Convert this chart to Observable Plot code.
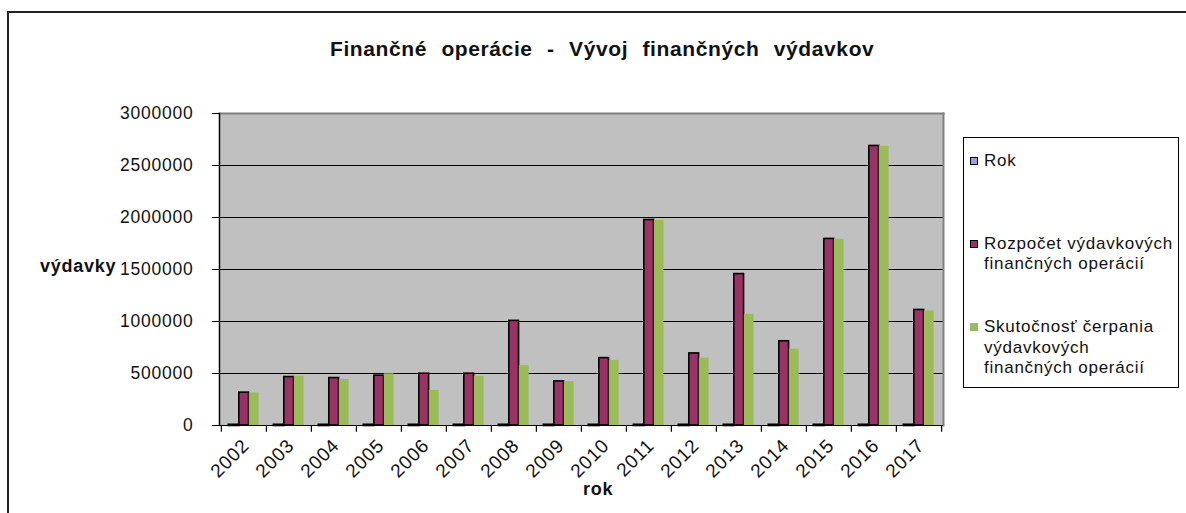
<!DOCTYPE html>
<html>
<head>
<meta charset="utf-8">
<script src="https://cdn.jsdelivr.net/npm/d3@7"></script>
<script src="https://cdn.jsdelivr.net/npm/@observablehq/plot@0.6"></script>
<style>
  html, body { margin: 0; padding: 0; background: #fff; }
  #wrap { position: relative; width: 1186px; height: 513px; overflow: hidden; font-family: "Liberation Sans", Arial, sans-serif; color: #111; }
  #chart { position: absolute; left: 0; top: 0; }
  #border { position: absolute; left: 7px; top: 11px; width: 1300px; height: 700px; border-left: 2px solid #222; border-top: 2px solid #222; box-sizing: border-box; }
  .lbl { position: absolute; white-space: nowrap; line-height: 1; }
  #legend { position: absolute; left: 963px; top: 137px; width: 216px; height: 251px; border: 1px solid #000; box-sizing: border-box; background: #fff; }
  .sw { position: absolute; width: 8px; height: 8px; box-sizing: border-box; }
  .lt { position: absolute; white-space: nowrap; font-size: 17px; letter-spacing: 0.75px; line-height: 20.5px; }
</style>
</head>
<body>
<div id="wrap">
  <div id="border"></div>
  <div id="chart"></div>
</div>
<script>
// ---- data ----
const years = ["2002","2003","2004","2005","2006","2007","2008","2009","2010","2011","2012","2013","2014","2015","2016","2017"];
const rok = [2002,2003,2004,2005,2006,2007,2008,2009,2010,2011,2012,2013,2014,2015,2016,2017];
const rozpocet = [316000, 466000, 456000, 479000, 498000, 498000, 1006000, 424000, 648000, 1976000, 693000, 1456000, 810000, 1794000, 2688000, 1111000];
const skutocnost = [313000, 475000, 443000, 497000, 338000, 472000, 575000, 421000, 626000, 1973000, 648000, 1069000, 734000, 1791000, 2685000, 1101000];
const seriesNames = ["Rok", "Rozpočet výdavkových finančných operácií", "Skutočnosť čerpania výdavkových finančných operácií"];
const legendLines = [["Rok"], ["Rozpočet výdavkových", "finančných operácií"], ["Skutočnosť čerpania", "výdavkových", "finančných operácií"]];
const seriesColors = ["#9999FF", "#993366", "#9BBB59"];
const yTicks = [0, 500000, 1000000, 1500000, 2000000, 2500000, 3000000];
const titleText = "Finančné operácie - Vývoj finančných výdavkov";
const yLabel = "výdavky";
const xLabel = "rok";

// ---- layout ----
const W = 1186, H = 513;
const mL = 219, mR = W - 943, mT = 113, mB = H - 425;
const bw = (W - mL - mR) / years.length;
const off = 7.8, barW = 10;

const table = years.map((y, i) => ({year: y, rok: rok[i], rozpocet: rozpocet[i], skutocnost: skutocnost[i]}));

const chart = Plot.plot({
  width: W, height: H,
  marginLeft: mL, marginRight: mR, marginTop: mT, marginBottom: mB,
  style: {fontFamily: "Liberation Sans, Arial, sans-serif", color: "#111", background: "transparent", letterSpacing: "0.75px", overflow: "visible"},
  x: {type: "band", domain: years, padding: 0},
  y: {domain: [0, 3000000]},
  marks: [
    Plot.frame({fill: "#C0C0C0", stroke: null}),
    Plot.gridY(yTicks, {stroke: "#000", strokeOpacity: 1, strokeWidth: 1}),
    Plot.frame({anchor: "top", stroke: "#808080", strokeWidth: 2}),
    Plot.frame({anchor: "right", stroke: "#808080", strokeWidth: 2}),
    Plot.ruleY([0], {stroke: "#000", strokeWidth: 1}),
    Plot.barY(table, {x: "year", y: "rok", fill: seriesColors[0], stroke: "#000", strokeWidth: 2.6,
      insetLeft: off, insetRight: bw - off - barW}),
    Plot.barY(table, {x: "year", y: "rozpocet", fill: seriesColors[1], stroke: "#000", strokeWidth: 1.6,
      insetLeft: off + barW, insetRight: bw - off - 2 * barW}),
    Plot.barY(table, {x: "year", y: "skutocnost", fill: seriesColors[2],
      insetLeft: off + 2 * barW, insetRight: bw - off - 3 * barW}),
    Plot.frame({anchor: "left", stroke: "#000", strokeWidth: 1.5}),
    Plot.ruleX(years, {x: d => d, y1: 0, y2: -65000, dx: -bw / 2, stroke: "#000", strokeWidth: 1.2}),
    Plot.ruleX(years.slice(-1), {x: d => d, y1: 0, y2: -65000, dx: bw / 2, stroke: "#000", strokeWidth: 1.2}),
    Plot.axisY({ticks: yTicks, tickFormat: d3.format("d"), tickSize: 7, tickPadding: 19, fontSize: 17.5, label: null, stroke: "#000"}),
    Plot.axisX({tickRotate: -45, tickSize: 0, tickPadding: 17, dx: 2, fontSize: 19, label: null})
  ]
});
document.getElementById("chart").appendChild(chart);

// ---- html text ----
const wrap = document.getElementById("wrap");
function placeText(txt, x, baseline, fs, opts = {}) {
  const d = document.createElement("div");
  d.className = "lbl";
  d.textContent = txt;
  d.style.fontSize = fs + "px";
  d.style.top = (baseline - 0.8465 * fs) + "px";
  if (opts.bold) d.style.fontWeight = "bold";
  if (opts.ls != null) d.style.letterSpacing = opts.ls + "px";
  if (opts.ws != null) d.style.wordSpacing = opts.ws + "px";
  wrap.appendChild(d);
  if (opts.center) d.style.left = (x - d.offsetWidth / 2) + "px";
  else d.style.left = x + "px";
  return d;
}
placeText(titleText, 602, 56, 21, {bold: true, ls: 0.6, ws: 8, center: true});
placeText(yLabel, 40, 272, 18, {bold: true, ls: 0.75});
placeText(xLabel, 598, 495, 18, {bold: true, ls: 0.75, center: true});

// legend
const legend = document.createElement("div");
legend.id = "legend";
wrap.appendChild(legend);
const entryTops = [150.9, 233.9, 317.2];
seriesNames.forEach((name, i) => {
  const top = entryTops[i] - 138;
  const sw = document.createElement("div");
  sw.className = "sw";
  sw.style.left = (970 - 964) + "px";
  sw.style.top = (top + 16.1 - 10) + "px";
  sw.style.background = seriesColors[i];
  if (i < 2) sw.style.border = "1.5px solid #000";
  legend.appendChild(sw);
  const t = document.createElement("div");
  t.className = "lt";
  t.title = name;
  t.style.left = (984 - 964) + "px";
  t.style.top = top + "px";
  t.innerHTML = legendLines[i].join("<br>");
  legend.appendChild(t);
});
</script>
</body>
</html>
